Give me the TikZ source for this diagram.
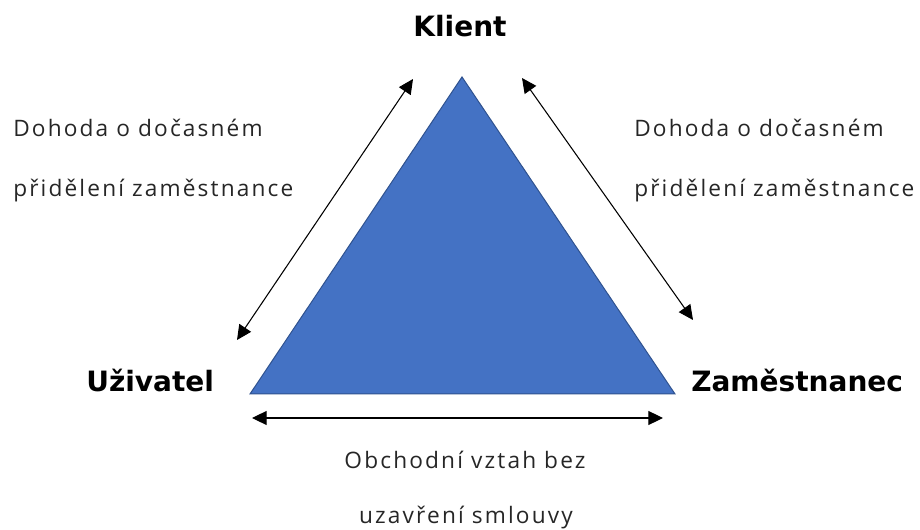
\documentclass[tikz,border=0pt]{standalone}
\usepackage{fontspec}
\setmainfont{Open Sans}[LetterSpace=9.5]
\newfontfamily\boldlab{DejaVu Sans Bold}
\usetikzlibrary{arrows.meta}
\definecolor{triblue}{HTML}{4472C4}
\definecolor{triedge}{HTML}{2F528F}
\definecolor{txtgray}{HTML}{262626}
\begin{document}
\begin{tikzpicture}[x=0.75pt,y=-0.75pt,
  partylab/.style={font=\boldlab\fontsize{21}{24}\selectfont, inner sep=0pt},
  desclab/.style={font=\fontsize{17}{20}\selectfont, inner sep=0pt, text=txtgray},
  dblarrow/.style={{Triangle[length=11pt,width=10.5pt]}-{Triangle[length=11pt,width=10.5pt]}, line width=0.8pt}]
\useasboundingbox (0,0) rectangle (920,530);
% triangle
\coordinate (apex) at (462,77);
\coordinate (bl) at (250,394);
\coordinate (br) at (675,394);
\filldraw[fill=triblue, draw=triedge, line width=0.75pt] (apex) -- (br) -- (bl) -- cycle;
% party labels
\node[partylab, anchor=base] (klient) at (460,37) {Klient};
\node[partylab, anchor=base west] (uziv) at (86,392) {Uživatel};
\node[partylab, anchor=base west] (zam) at (691,392) {Zaměstnanec};
% description labels
\node[desclab, anchor=base west] (l1) at (13,137) {Dohoda o dočasném};
\node[desclab, anchor=base west] (l2) at (13,197) {přidělení zaměstnance};
\node[desclab, anchor=base west] (r1) at (634,137) {Dohoda o dočasném};
\node[desclab, anchor=base west] (r2) at (634,197) {přidělení zaměstnance};
\node[desclab, anchor=base] (b1) at (465,468) {Obchodní vztah bez};
\node[desclab, anchor=base] (b2) at (466,523) {uzavření smlouvy};
% arrows
\coordinate (la1) at (237,340);
\coordinate (la2) at (413,79);
\coordinate (ra1) at (522,78);
\coordinate (ra2) at (693,320);
\coordinate (ha1) at (252,418);
\coordinate (ha2) at (663,418);
\draw[dblarrow] (la1) -- (la2);
\draw[dblarrow] (ra1) -- (ra2);
\draw[dblarrow] (ha1) -- (ha2);
\end{tikzpicture}
\end{document}
